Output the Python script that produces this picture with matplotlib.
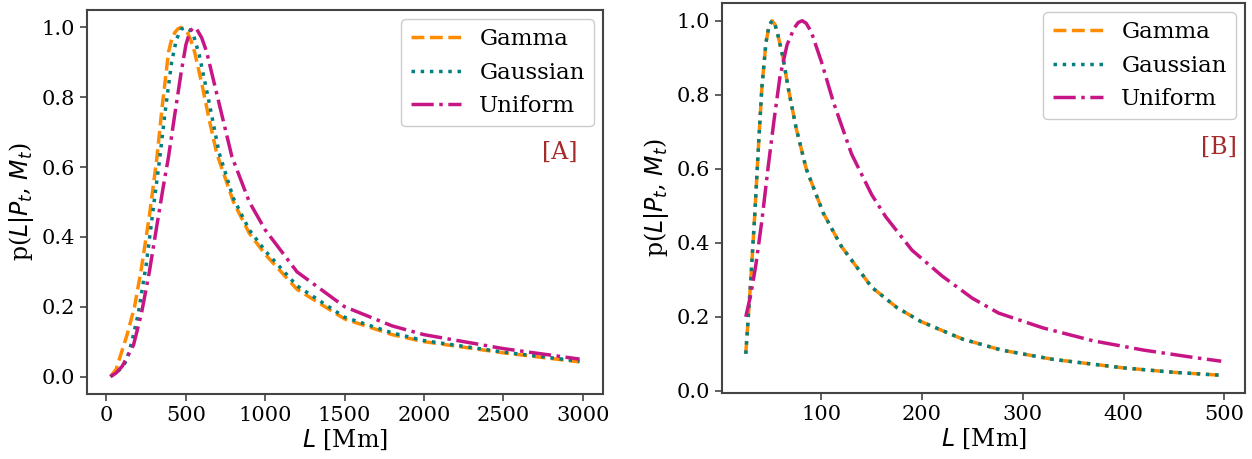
import matplotlib
matplotlib.use("Agg")
import matplotlib.pyplot as plt

# valores lidos do grafico original
# painel A
L_a_gamma = [25, 60, 95, 130, 177, 220, 270, 316, 350, 391, 410, 430, 450, 467, 490, 510, 530, 555, 600, 650, 694, 800, 900, 1000, 1200, 1500, 1800, 2000, 2500, 2980]
p_a_gamma = [0.0, 0.02, 0.07, 0.12, 0.2, 0.31, 0.46, 0.62, 0.77, 0.93, 0.965, 0.985, 0.996, 1.0, 0.996, 0.985, 0.965, 0.93, 0.84, 0.73, 0.64, 0.5, 0.41, 0.35, 0.25, 0.165, 0.12, 0.1, 0.068, 0.042]

L_a_gauss = [25, 60, 95, 126, 160, 200, 250, 300, 334, 370, 410, 440, 470, 498, 525, 550, 585, 640, 710, 800, 900, 1000, 1200, 1500, 1800, 2000, 2500, 2980]
p_a_gauss = [0.0, 0.01, 0.025, 0.045, 0.1, 0.18, 0.32, 0.5, 0.62, 0.76, 0.9, 0.965, 0.995, 1.0, 0.993, 0.975, 0.92, 0.8, 0.64, 0.51, 0.42, 0.36, 0.26, 0.17, 0.125, 0.103, 0.07, 0.044]

L_a_unif = [25, 60, 100, 170, 220, 270, 320, 360, 391, 430, 470, 500, 525, 549, 570, 600, 631, 700, 790, 900, 1000, 1200, 1500, 1800, 2000, 2500, 2980]
p_a_unif = [0.0, 0.01, 0.03, 0.09, 0.18, 0.3, 0.44, 0.55, 0.63, 0.75, 0.87, 0.95, 0.988, 1.0, 0.994, 0.97, 0.93, 0.8, 0.63, 0.5, 0.42, 0.3, 0.2, 0.145, 0.12, 0.08, 0.05]

# painel B
L_b_gamma = [25, 30, 34, 38, 41, 45, 48, 51, 54, 57, 62, 67, 75, 85, 102, 120, 150, 175, 199, 240, 279, 330, 400, 450, 497]
p_b_gamma = [0.1, 0.3, 0.48, 0.68, 0.82, 0.94, 0.985, 1.0, 0.99, 0.96, 0.9, 0.82, 0.71, 0.6, 0.48, 0.39, 0.28, 0.225, 0.187, 0.14, 0.11, 0.085, 0.062, 0.05, 0.042]

L_b_gauss = [25, 30, 34, 38, 41, 45, 48, 51, 54, 57, 62, 67, 75, 85, 102, 120, 150, 175, 199, 240, 279, 330, 400, 450, 497]
p_b_gauss = [0.1, 0.3, 0.48, 0.68, 0.82, 0.94, 0.985, 1.0, 0.99, 0.96, 0.9, 0.82, 0.71, 0.6, 0.48, 0.39, 0.28, 0.225, 0.187, 0.14, 0.11, 0.085, 0.062, 0.05, 0.042]

L_b_unif = [25, 30, 35, 41, 47, 53, 59, 66, 73, 77, 81, 85, 90, 100, 112, 130, 150, 164, 190, 220, 250, 276, 320, 370, 420, 470, 497]
p_b_unif = [0.2, 0.26, 0.34, 0.46, 0.6, 0.73, 0.85, 0.935, 0.98, 0.995, 1.0, 0.993, 0.97, 0.89, 0.78, 0.64, 0.53, 0.47, 0.38, 0.31, 0.25, 0.21, 0.17, 0.135, 0.11, 0.09, 0.08]

paineis = [
    ("[A]", L_a_gamma, p_a_gamma, L_a_gauss, p_a_gauss, L_a_unif, p_a_unif),
    ("[B]", L_b_gamma, p_b_gamma, L_b_gauss, p_b_gauss, L_b_unif, p_b_unif),
]

plt.rcParams["font.family"] = "DejaVu Serif"
plt.rcParams["mathtext.fontset"] = "dejavusans"

fig = plt.figure(figsize=(12.52, 4.59), dpi=100)
posicoes = [[87/1252, 65/459, 516/1252, 384/459], [722/1252, 66/459, 523/1252, 390/459]]

for pos, (rotulo, xg, yg, xs, ys, xu, yu) in zip(posicoes, paineis):
    ax = fig.add_axes(pos)
    ax.plot(xg, yg, color="darkorange", ls="--", lw=2.5, label="Gamma")
    ax.plot(xs, ys, color="teal", ls=":", lw=2.5, label="Gaussian")
    ax.plot(xu, yu, color="mediumvioletred", ls="-.", lw=2.5, label="Uniform")

    ax.set_xlabel(r"$L$ [Mm]", fontsize=17, labelpad=2)
    ax.set_ylabel(r"p($L|P_t$, $M_t$)", fontsize=17, labelpad=4)
    ax.tick_params(labelsize=15, color="#444444", length=5, width=1.2)
    for sp in ax.spines.values():
        sp.set_color("#444444")
        sp.set_linewidth(1.5)

    leg = ax.legend(loc="upper right", fontsize=16.5, handlelength=2.2, framealpha=1,
                    borderaxespad=0.4)
    leg.get_frame().set_edgecolor("#cccccc")
    ax.text(0.95 if rotulo == "[A]" else 0.985, 0.63, rotulo, transform=ax.transAxes,
            color="brown", fontsize=17, ha="right", va="center")

fig.savefig("out.png", dpi=100)
